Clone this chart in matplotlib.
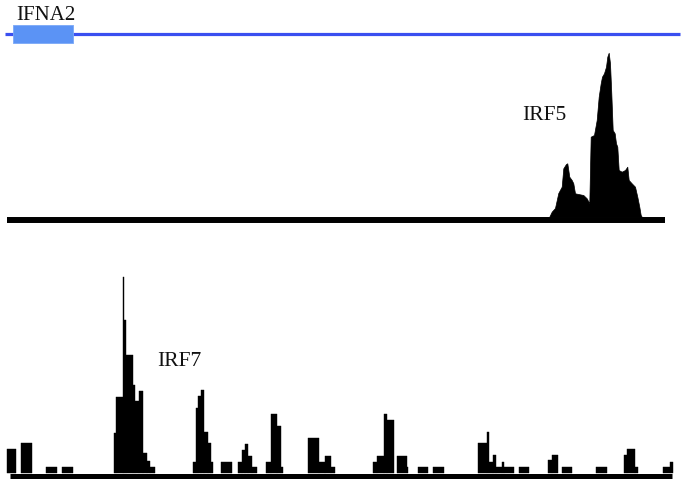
import numpy as np
import matplotlib
matplotlib.use('Agg')
import matplotlib.pyplot as plt

# positions along the locus (plot units, 0..687)
locus_start, locus_end = 5, 680
gene_name = 'IFNA2'
gene_start, gene_end = 13.3, 73.3

# IRF5 coverage profile
irf5_pos = [549.3, 551.7, 555, 558.3, 561.7, 563.3, 566, 567.3, 569.3, 571.7, 573.3,
            575, 578.3, 583.3, 586.7, 589.3, 590.7, 594, 596.7, 598.7, 600.7, 602,
            604, 606, 607.3, 608.7, 610, 611.3, 612.7, 614.7, 616, 617.3, 618.7,
            621.7, 625, 627.3, 628.7, 631.7, 635, 637.3, 639.3, 640.7, 641.7]
irf5_val = [0, 5, 8.7, 23.7, 30, 48.4, 52.7, 53.4, 40, 36.7, 33.4,
            23.4, 22.7, 21.7, 18.4, 13.4, 80, 81.7, 96.7, 120, 133.4, 140,
            143.4, 150, 160, 164, 153.4, 123.4, 86.7, 83.4, 73.4, 70, 46.7,
            45, 46.7, 50, 36.7, 33.4, 30, 20, 10, 1.7, 0]

# IRF7 binned coverage
irf7_start = [7, 21, 46, 62, 114.3, 116, 122.7, 124.3, 126, 132.7, 135, 139.3, 143.3, 146.7, 150,
              192.7, 196, 198.3, 200.7, 204, 207.7, 211, 220.7, 238.3, 241.7, 245, 247.7, 251.7,
              266, 270.7, 276.7, 281, 308.3, 319, 325, 331, 373.3, 376.7, 384.3, 386.7, 396.7, 406.7,
              418.3, 433.3, 478.3, 486.7, 489.3, 492.7, 496, 501.7, 504, 519.3,
              548.3, 551.7, 561.7, 595.7, 624, 627.3, 635, 663.3, 670]
irf7_end = [16, 32, 57, 73, 116, 122.7, 124.3, 126, 132.7, 135, 139.3, 143.3, 146.7, 150, 155,
            196, 198.3, 200.7, 204, 207.7, 211, 213.3, 232.3, 241.7, 245, 247.7, 251.7, 256.7,
            270.7, 276.7, 281, 282.7, 319, 325, 331, 335, 376.7, 384.3, 386.7, 394.3, 406.7, 408.3,
            428.3, 444, 486.7, 489.3, 492.7, 496, 501.7, 504, 514, 529.3,
            551.7, 558.3, 572.3, 606.7, 627.3, 635, 638.3, 670, 673.3]
irf7_val = [24, 30, 6, 6, 40, 76, 196, 153, 118, 88, 72, 82, 20, 12, 6,
            11, 65, 77, 83, 41, 30, 11, 11, 11, 23, 29, 17, 6,
            11, 59, 47, 6, 35, 11, 17, 6, 11, 17, 59, 53, 17, 6,
            6, 6, 30, 41, 11, 18, 6, 11, 6, 6,
            13, 18, 6, 6, 18, 24, 6, 6, 11]

W, H = 687, 484
fig = plt.figure(figsize=(W / 100, H / 100), dpi=100)
serif = 'Liberation Serif'

# gene track (y in pixels, top = 0)
ax0 = fig.add_axes([0, 1 - 50 / H, 1, 50 / H])
ax0.set_xlim(0, W)
ax0.set_ylim(50, 0)
ax0.hlines(34, locus_start, locus_end, color='#3a4ff0', lw=2.3)
ax0.broken_barh([(gene_start, gene_end - gene_start)], (25, 18.3),
                facecolors='#5b93f5', edgecolor='#7aa8f7', lw=0.6, zorder=3)
ax0.text(gene_start + 2.5, 20, gene_name, fontsize=15, family=serif, va='baseline', color='#111')
ax0.axis('off')

# IRF5 track
ax1 = fig.add_axes([0, (H - 222.7) / H, 1, 176 / H])
ax1.set_xlim(0, W)
ax1.set_ylim(-6, 170)
ax1.fill_between(irf5_pos, 0, irf5_val, color='black', lw=0.5)
ax1.hlines(-3, 7, 665, color='black', lw=4.3)
ax1.text(522, 96.5, 'IRF5', fontsize=15.5, family=serif, va='baseline', color='#111')
ax1.axis('off')

# IRF7 track
ax2 = fig.add_axes([0, (H - 478.5) / H, 1, 205.5 / H])
ax2.set_xlim(0, W)
ax2.set_ylim(-5.5, 200)
widths = np.array(irf7_end) - np.array(irf7_start)
ax2.bar(irf7_start, irf7_val, width=widths, align='edge', color='black',
        edgecolor='black', lw=0.3)
ax2.hlines(-2.75, 10, 672, color='black', lw=3.6)
ax2.text(157, 106.5, 'IRF7', fontsize=15.5, family=serif, va='baseline', color='#111')
ax2.axis('off')

fig.savefig('out.png', dpi=100)
